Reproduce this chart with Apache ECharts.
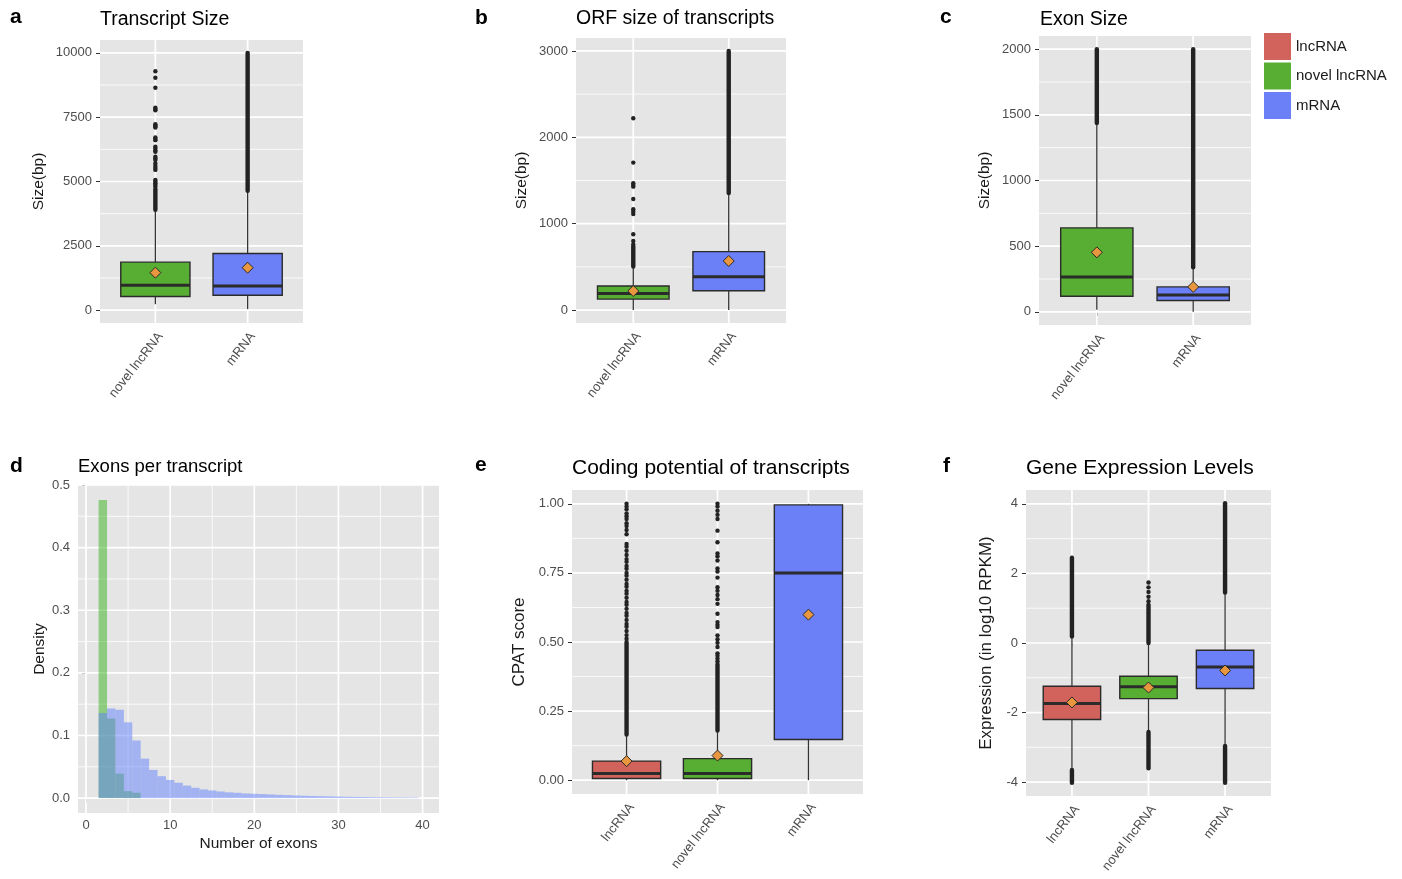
<!DOCTYPE html>
<html><head><meta charset="utf-8">
<script src="https://cdn.jsdelivr.net/npm/echarts@6/dist/echarts.min.js"></script>
<style>html,body{margin:0;padding:0;background:#fff}#c{width:1402px;height:879px}</style>
</head><body><div id="c"></div>
<script>
// ================= DATA =================
const catsTwo = ['novel lncRNA', 'mRNA'];
const catsThree = ['lncRNA', 'novel lncRNA', 'mRNA'];
const legendNames = ['lncRNA', 'novel lncRNA', 'mRNA'];

// a: Transcript Size  (box = [lowerWhisker, q1, median, q3, upperWhisker])
const ticksA = [0, 2500, 5000, 7500, 10000];
const boxA = [[230, 529, 966, 1866, 3870], [40, 580, 940, 2202, 4630]];
const meanA = [1456, 1650];
const denseA = [[[3900, 4700]], [[4640, 10000]]];
const sparseA = [[4800, 4870, 4930, 5000, 5060, 5450, 5520, 5600, 5700, 5834, 5900, 5962, 6155, 6210, 6280, 6349,
                  6608, 6660, 6711, 7096, 7140, 7180, 7225, 7767, 7820, 7870, 8643, 9030, 9285], []];

// b: ORF size of transcripts
const ticksB = [0, 1000, 2000, 3000];
const boxB = [[0, 127, 193, 278, 500], [0, 224, 386, 676, 1350]];
const meanB = [220, 568];
const denseB = [[[505, 735]], [[1355, 3000]]];
const sparseB = [[760, 800, 877, 1112, 1140, 1167, 1286, 1429, 1448, 1468, 1707, 2221], []];

// c: Exon Size
const ticksC = [0, 500, 1000, 1500, 2000];
const boxC = [[17, 119, 266, 639, 1430], [0, 86, 129, 190, 335]];
const meanC = [453, 190];
const denseC = [[[1437, 2000]], [[340, 2000]]];
const sparseC = [[], []];

// d: Exons per transcript (density histogram, bin centres)
const ticksDx = [0, 10, 20, 30, 40];
const ticksDy = [0, 0.1, 0.2, 0.3, 0.4, 0.5];
const binsNovel = [2, 3, 4, 5, 6];
const densNovel = [0.476, 0.127, 0.039, 0.011, 0.0085];
const binsMRNA = [2, 3, 4, 5, 6, 7, 8, 9, 10, 11, 12, 13, 14, 15, 16, 17, 18, 19, 20, 21,
                  22, 23, 24, 25, 26, 27, 28, 29, 30, 31, 32, 33, 34, 35, 36, 37, 38, 39];
const densMRNA = [0.136, 0.143, 0.141, 0.121, 0.092, 0.063, 0.045, 0.035, 0.029, 0.0245,
                  0.020, 0.0165, 0.0138, 0.0122, 0.0106, 0.0092, 0.0085, 0.0074, 0.0069, 0.0064,
                  0.0058, 0.0052, 0.0047, 0.0042, 0.0037, 0.0033, 0.0030, 0.0027, 0.0024, 0.0021,
                  0.0019, 0.0017, 0.0015, 0.0013, 0.0012, 0.0011, 0.0010, 0.0009];

// e: Coding potential of transcripts
const ticksE = [0, 0.25, 0.5, 0.75, 1.0];
const boxE = [[0, 0.006, 0.024, 0.069, 0.16], [0, 0.006, 0.024, 0.078, 0.178], [0, 0.147, 0.75, 0.996, 1.0]];
const meanE = [0.069, 0.089, 0.599];
const denseE = [[[0.165, 0.50]], [[0.18, 0.42]], []];
const sparseE = [
  [1.0, 0.99, 0.98, 0.965, 0.955, 0.945, 0.93, 0.92, 0.905, 0.89, 0.855, 0.845, 0.83, 0.815, 0.80, 0.79,
   0.775, 0.765, 0.75, 0.74, 0.725, 0.71, 0.70, 0.685, 0.675, 0.66, 0.645, 0.635, 0.62, 0.605, 0.595,
   0.58, 0.565, 0.555, 0.54, 0.525, 0.512],
  [1.0, 0.99, 0.975, 0.96, 0.945, 0.903, 0.861, 0.82, 0.81, 0.795, 0.766, 0.755, 0.733, 0.698, 0.685,
   0.67, 0.655, 0.638, 0.602, 0.572, 0.562, 0.554, 0.524, 0.51, 0.497, 0.482, 0.459, 0.45, 0.44, 0.43],
  []];

// f: Gene Expression Levels
const ticksF = [-4, -2, 0, 2, 4];
const boxF = [[-3.62, -2.2, -1.74, -1.244, 0.17], [-2.55, -1.6, -1.26, -0.957, -0.03], [-2.94, -1.31, -0.69, -0.21, 1.43]];
const meanF = [-1.71, -1.28, -0.79];
const denseF = [[[0.19, 2.45], [-4.02, -3.65]], [[0.0, 1.1], [-3.6, -2.56]], [[1.45, 4.02], [-4.02, -2.96]]];
const sparseF = [[], [1.2, 1.33, 1.47, 1.6, 1.74], []];

// ================= STYLE / LAYOUT =================
const FONT = "'Liberation Sans', Arial, Helvetica, sans-serif";
const COLORS = {'lncRNA': '#D2625C', 'novel lncRNA': '#57AE33', 'mRNA': '#6B80F7'};
const HIST_GREEN = 'rgba(53,177,25,0.5)';
const HIST_BLUE = 'rgba(97,127,251,0.5)';
const BG = '#E5E5E5';
const TICKCOL = '#333333';
const LABCOL = '#4D4D4D';

const grids = [
  {left: 100, top: 40, width: 203, height: 283},
  {left: 576, top: 38, width: 210, height: 285},
  {left: 1039, top: 36, width: 212, height: 289},
  {left: 78, top: 485, width: 361, height: 328},
  {left: 572, top: 490, width: 291, height: 304},
  {left: 1026, top: 490, width: 245, height: 306}
];

// ================= RENDERERS =================
function gridRender(params, api) {
  const cs = params.coordSys;
  const p = api.coord([api.value(0), api.value(1)]);
  const w = api.value(3) ? 1.7 : 0.8;
  if (api.value(2) === 0) {
    return {type: 'line', shape: {x1: cs.x, y1: p[1], x2: cs.x + cs.width, y2: p[1]},
            style: {stroke: '#FFFFFF', lineWidth: w}};
  }
  return {type: 'line', shape: {x1: p[0], y1: cs.y, x2: p[0], y2: cs.y + cs.height},
          style: {stroke: '#FFFFFF', lineWidth: w}};
}
function boxRender(params, api) {
  const x = api.value(0);
  const half = 0.375;
  const pL = api.coord([x - half, api.value(2)]);
  const pR = api.coord([x + half, api.value(4)]);
  const pLow = api.coord([x, api.value(1)]);
  const pHigh = api.coord([x, api.value(5)]);
  const pMed = api.coord([x, api.value(3)]);
  const left = pL[0], right = pR[0], top = pR[1], bottom = pL[1];
  const col = api.visual('color');
  return {type: 'group', children: [
    {type: 'line', shape: {x1: pLow[0], y1: pLow[1], x2: pLow[0], y2: bottom}, style: {stroke: '#333', lineWidth: 1.3}},
    {type: 'line', shape: {x1: pHigh[0], y1: top, x2: pHigh[0], y2: pHigh[1]}, style: {stroke: '#333', lineWidth: 1.3}},
    {type: 'rect', shape: {x: left, y: top, width: right - left, height: bottom - top},
     style: {fill: col, stroke: '#2b2b2b', lineWidth: 1.4}},
    {type: 'line', shape: {x1: left, y1: pMed[1], x2: right, y2: pMed[1]}, style: {stroke: '#2b2b2b', lineWidth: 3}}
  ]};
}
function denseRender(params, api) {
  const a = api.coord([api.value(0), api.value(1)]);
  const b = api.coord([api.value(0), api.value(2)]);
  return {type: 'line', shape: {x1: a[0], y1: a[1], x2: b[0], y2: b[1]},
          style: {stroke: '#222', lineWidth: 4.4, lineCap: 'round'}};
}
function histRender(params, api) {
  const c = api.value(0), d = api.value(1);
  const p1 = api.coord([c - 0.5, d]);
  const p2 = api.coord([c + 0.5, 0]);
  return {type: 'rect', shape: {x: p1[0], y: p1[1], width: p2[0] - p1[0], height: p2[1] - p1[1]},
          style: {fill: api.visual('color')}};
}

// ================= BUILDERS =================
function mids(arr) { return arr.slice(1).map((v, i) => (v + arr[i]) / 2); }
function gridLinesData(xr, yr, xMaj, xMin, yMaj, yMin) {
  const d = [];
  yMin.forEach(v => d.push([xr[0], v, 0, 0]));
  xMin.forEach(v => d.push([v, yr[0], 1, 0]));
  yMaj.forEach(v => d.push([xr[0], v, 0, 1]));
  xMaj.forEach(v => d.push([v, yr[0], 1, 1]));
  return d;
}
const xAxes = [], yAxes = [], series = [];

function yAxisDef(gi, range, ticks, name, nameGap, nameSize, fmt) {
  return {
    type: 'value', gridIndex: gi, min: range[0], max: range[1],
    axisLine: {show: false}, splitLine: {show: false},
    axisTick: {show: true, customValues: ticks, length: 4, lineStyle: {color: TICKCOL, width: 1}},
    axisLabel: {customValues: ticks, formatter: fmt, margin: 8, fontSize: 13, color: LABCOL, fontFamily: FONT},
    name: name, nameLocation: 'middle', nameRotate: 90, nameGap: nameGap, nameMoveOverlap: false,
    nameTextStyle: {fontSize: nameSize, color: '#1A1A1A', fontFamily: FONT}
  };
}
function boxPanel(gi, cats, yr, ticks, boxes, means, dense, sparse, yName, nameGap, nameSize, fmt) {
  const pos = cats.map((c, i) => i + 1);
  const xr = [0.4, cats.length + 0.6];
  xAxes.push({
    type: 'value', gridIndex: gi, min: xr[0], max: xr[1],
    axisLine: {show: false}, splitLine: {show: false},
    axisTick: {show: true, customValues: pos, length: 4, lineStyle: {color: TICKCOL, width: 1}},
    axisLabel: {customValues: pos, formatter: v => cats[Math.round(v) - 1], rotate: 52, margin: 7,
                verticalAlign: 'top', fontSize: 13, color: LABCOL, fontFamily: FONT}
  });
  yAxes.push(yAxisDef(gi, yr, ticks, yName, nameGap, nameSize, fmt));
  series.push({type: 'custom', name: 'grid' + gi, xAxisIndex: gi, yAxisIndex: gi, z: 1, silent: true,
    renderItem: gridRender, encode: {x: 0, y: 1},
    data: gridLinesData(xr, yr, pos, [], ticks, mids(ticks))});
  cats.forEach((c, i) => {
    series.push({type: 'custom', name: c, xAxisIndex: gi, yAxisIndex: gi, z: 3, silent: true,
      itemStyle: {color: COLORS[c]}, renderItem: boxRender, encode: {x: 0, y: 3},
      data: [[i + 1].concat(boxes[i])]});
  });
  const dd = [];
  dense.forEach((segs, i) => segs.forEach(s => dd.push([i + 1, s[0], s[1]])));
  series.push({type: 'custom', name: 'dense' + gi, xAxisIndex: gi, yAxisIndex: gi, z: 4, silent: true,
    renderItem: denseRender, encode: {x: 0, y: 1}, data: dd});
  const sd = [];
  sparse.forEach((arr, i) => arr.forEach(v => sd.push([i + 1, v])));
  series.push({type: 'scatter', name: 'out' + gi, xAxisIndex: gi, yAxisIndex: gi, z: 4, silent: true,
    symbol: 'circle', symbolSize: 4.4, itemStyle: {color: '#222', opacity: 1}, data: sd});
  series.push({type: 'scatter', name: 'mean' + gi, xAxisIndex: gi, yAxisIndex: gi, z: 6, silent: true,
    symbol: 'diamond', symbolSize: 11,
    itemStyle: {color: '#E8973E', borderColor: '#2a2a2a', borderWidth: 1, opacity: 1},
    data: means.map((m, i) => [i + 1, m])});
}

// ---- panels a, b, c ----
boxPanel(0, catsTwo, [-500, 10500], ticksA, boxA, meanA, denseA, sparseA, 'Size(bp)', 53, 15.5, v => String(v));
boxPanel(1, catsTwo, [-150, 3150], ticksB, boxB, meanB, denseB, sparseB, 'Size(bp)', 46, 15.5, v => String(v));
boxPanel(2, catsTwo, [-100, 2100], ticksC, boxC, meanC, denseC, sparseC, 'Size(bp)', 46, 15.5, v => String(v));

// ---- panel d (histogram) ----
(function () {
  const gi = 3;
  const xr = [-0.95, 41.95], yr = [-0.0238, 0.5];
  xAxes.push({
    type: 'value', gridIndex: gi, min: xr[0], max: xr[1],
    axisLine: {show: false}, splitLine: {show: false},
    axisTick: {show: true, customValues: ticksDx, length: 4, lineStyle: {color: TICKCOL, width: 1}},
    axisLabel: {customValues: ticksDx, margin: 6, fontSize: 13, color: LABCOL, fontFamily: FONT},
    name: 'Number of exons', nameLocation: 'middle', nameGap: 23, nameMoveOverlap: false,
    nameTextStyle: {fontSize: 15.5, color: '#1A1A1A', fontFamily: FONT}
  });
  yAxes.push(yAxisDef(gi, yr, ticksDy, 'Density', 30, 15.5, v => v.toFixed(1)));
  series.push({type: 'custom', name: 'grid' + gi, xAxisIndex: gi, yAxisIndex: gi, z: 1, silent: true,
    renderItem: gridRender, encode: {x: 0, y: 1},
    data: gridLinesData(xr, yr, ticksDx, mids(ticksDx), ticksDy, mids(ticksDy))});
  series.push({type: 'custom', name: 'hist novel lncRNA', xAxisIndex: gi, yAxisIndex: gi, z: 3, silent: true,
    itemStyle: {color: HIST_GREEN}, renderItem: histRender, encode: {x: 0, y: 1},
    data: binsNovel.map((b, i) => [b, densNovel[i]])});
  series.push({type: 'custom', name: 'hist mRNA', xAxisIndex: gi, yAxisIndex: gi, z: 4, silent: true,
    itemStyle: {color: HIST_BLUE}, renderItem: histRender, encode: {x: 0, y: 1},
    data: binsMRNA.map((b, i) => [b, densMRNA[i]])});
})();

// ---- panels e, f ----
boxPanel(4, catsThree, [-0.05, 1.05], ticksE, boxE, meanE, denseE, sparseE, 'CPAT score', 44, 17, v => v.toFixed(2));
boxPanel(5, catsThree, [-4.4, 4.4], ticksF, boxF, meanF, denseF, sparseF, 'Expression (in log10 RPKM)', 31, 17, v => String(v));

// ================= TITLES =================
function ttl(text, left, top, size, bold) {
  return {text: text, left: left, top: top, padding: 0,
    textStyle: {fontSize: size, fontWeight: bold ? 'bold' : 'normal', color: '#000', fontFamily: FONT}};
}
const titles = [
  ttl('a', 10, 7, 21, true), ttl('Transcript Size', 100, 10, 19.5, false),
  ttl('b', 475, 8, 21, true), ttl('ORF size of transcripts', 576, 9, 19.5, false),
  ttl('c', 940, 7, 21, true), ttl('Exon Size', 1040, 10, 19.5, false),
  ttl('d', 10, 456, 21, true), ttl('Exons per transcript', 78, 457, 18.5, false),
  ttl('e', 475, 455, 21, true), ttl('Coding potential of transcripts', 572, 458, 21, false),
  ttl('f', 943, 456, 21, true), ttl('Gene Expression Levels', 1026, 458, 21, false)
];

const chart = echarts.init(document.getElementById('c'), null, {renderer: 'canvas'});
chart.setOption({
  animation: false,
  backgroundColor: '#FFFFFF',
  textStyle: {fontFamily: FONT},
  title: titles,
  legend: {
    data: legendNames, left: 1264, top: 33, orient: 'vertical', icon: 'rect',
    itemWidth: 27, itemHeight: 27, itemGap: 2.5, selectedMode: false, padding: 0,
    textStyle: {fontSize: 15, color: '#1A1A1A', fontFamily: FONT}
  },
  grid: grids.map(g => Object.assign({show: true, backgroundColor: BG, borderWidth: 0,
    containLabel: false, outerBoundsMode: 'none'}, g)),
  xAxis: xAxes,
  yAxis: yAxes,
  series: series
});
</script>
</body></html>
